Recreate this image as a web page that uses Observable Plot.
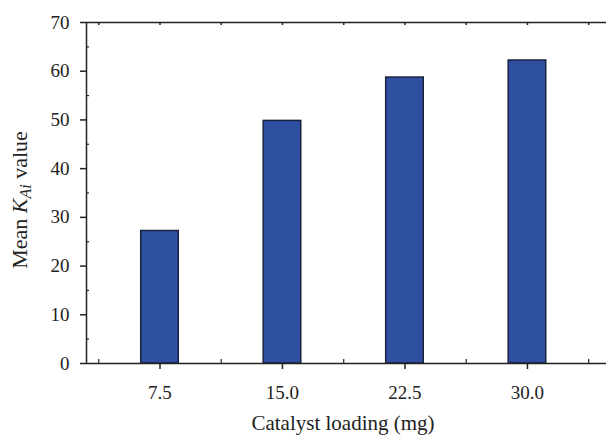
<!DOCTYPE html>
<html><head><meta charset="utf-8">
<script src="https://cdn.jsdelivr.net/npm/d3@7"></script>
<script src="https://cdn.jsdelivr.net/npm/@observablehq/plot@0.6"></script>
<style>body{margin:0;background:#fff}</style>
</head><body><div id="chart"></div>
<script>
const loadings = [7.5, 15.0, 22.5, 30.0];
const meanKAi = [27.2, 49.8, 58.7, 62.2];
const yTicks = [0, 10, 20, 30, 40, 50, 60, 70];
const yMinorTicks = [5, 15, 25, 35, 45, 55, 65];
const xTicks = [7.5, 15.0, 22.5, 30.0];
const xMinorTicks = [3.75, 11.25, 18.75, 26.25, 33.75];
const topTicks = [3.75, 7.5, 11.25, 15, 18.75, 22.5, 26.25, 30, 33.75];
const xLabel = "Catalyst loading (mg)";

const barHalfWidth = 1.15;
const data = loadings.map((x, i) => ({x, y: meanKAi[i]}));
const font = "'Liberation Serif', 'DejaVu Serif', serif";
const axisColor = "#222";

const plot = Plot.plot({
  width: 606, height: 436,
  marginLeft: 86, marginRight: 0, marginTop: 22, marginBottom: 73,
  style: {fontFamily: font, fontSize: "19px", color: axisColor, background: "#fff", overflow: "visible"},
  x: {domain: [3, 34.84]},
  y: {domain: [0, 70]},
  marks: [
    Plot.rectY(data, {x1: d => d.x - barHalfWidth, x2: d => d.x + barHalfWidth, y1: 0, y2: "y",
      fill: "#2f4fa1", stroke: "#1a2240", strokeWidth: 1.5}),
    Plot.ruleY([0], {stroke: axisColor, strokeWidth: 1.5}),
    Plot.ruleY([70], {stroke: axisColor, strokeWidth: 1.5}),
    Plot.ruleX([3], {stroke: axisColor, strokeWidth: 1.5}),
    Plot.axisY({ticks: yTicks, tickSize: 6, tickPadding: 11, tickFormat: d => d, label: null, strokeWidth: 1.5, fontSize: 19}),
    Plot.axisY({ticks: yMinorTicks, tickSize: -3, tickFormat: () => "", label: null, strokeWidth: 1.2}),
    Plot.axisX({ticks: xTicks, tickSize: 6, tickPadding: 16, tickFormat: d3.format(".1f"), label: null, strokeWidth: 1.5, fontSize: 19}),
    Plot.axisX({ticks: xMinorTicks, tickSize: -4, tickFormat: () => "", label: null, strokeWidth: 1.2}),
    Plot.axisX({anchor: "top", ticks: topTicks, tickSize: -2, tickFormat: () => "", label: null, strokeWidth: 1.5})
  ]
});
document.getElementById("chart").appendChild(plot);

const svg = d3.select(plot);
svg.append("text")
  .attr("x", 343).attr("y", 430)
  .attr("text-anchor", "middle")
  .attr("font-family", font).attr("font-size", 21).attr("fill", axisColor)
  .text(xLabel);

const yl = svg.append("text")
  .attr("transform", "translate(27,200) rotate(-90)")
  .attr("text-anchor", "middle")
  .attr("font-family", font).attr("font-size", 22).attr("fill", axisColor);
yl.append("tspan").text("Mean ");
yl.append("tspan").attr("font-style", "italic").text("K");
yl.append("tspan").attr("font-style", "italic").attr("font-size", 16).attr("dy", 4).text("Ai");
yl.append("tspan").attr("dy", -4).text(" value");
</script>
</body></html>
